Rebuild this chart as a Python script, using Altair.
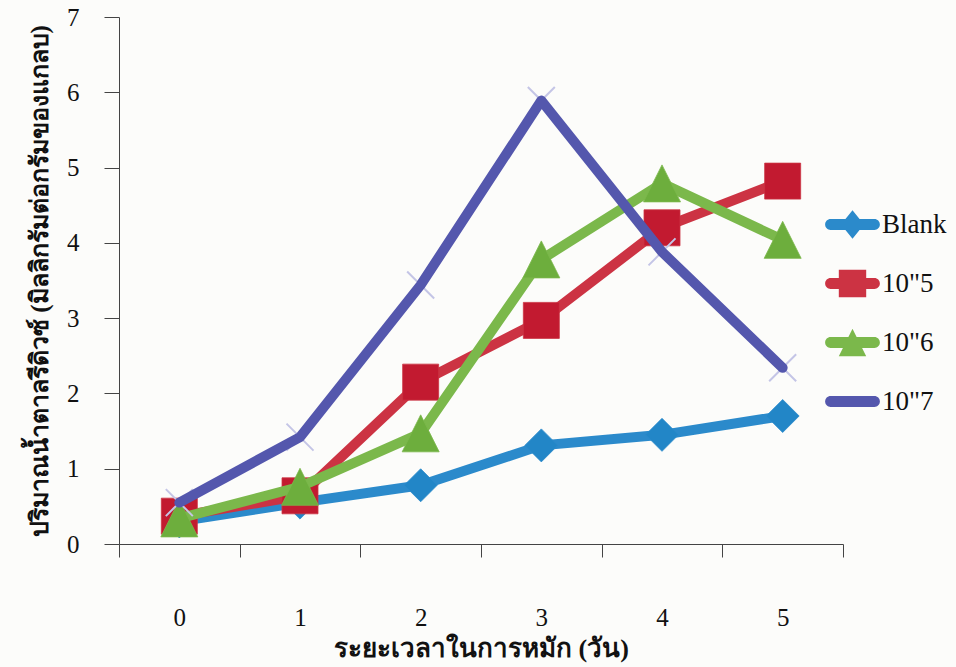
import altair as alt
import pandas as pd

# Fermentation time (days) and reducing-sugar content for each treatment
days = [0, 1, 2, 3, 4, 5]
series_names = ["Blank", '10"5', '10"6', '10"7']
blank_values = [0.30, 0.55, 0.78, 1.31, 1.45, 1.70]
e5_values = [0.37, 0.64, 2.15, 2.97, 4.20, 4.82]
e6_values = [0.34, 0.76, 1.47, 3.78, 4.79, 4.04]
e7_values = [0.55, 1.42, 3.44, 5.89, 3.88, 2.34]
all_values = [blank_values, e5_values, e6_values, e7_values]

x_values = [-0.5, 0, 0.5, 1, 1.5, 2, 2.5, 3, 3.5, 4, 4.5, 5, 5.5]
y_ticks = [0, 1, 2, 3, 4, 5, 6, 7]

line_colors = ["#2B8ACB", "#CC3343", "#7BB84B", "#5457AD"]
marker_fills = ["#2286C7", "#C21A30", "#6DAE3D", "#C4C5E6"]

# marker outlines drawn on the data points
diamond = "M0,-1L1,0L0,1L-1,0Z"
square = "M-1,-1H1V1H-1Z"
triangle = "M0,-1L1,1H-1Z"
cross = "M-1,-1L1,1M-1,1L1,-1"
marker_shapes = [diamond, square, triangle, cross]
marker_sizes = [1089, 1296, 1369, 729]

# legend keys: a rounded bar with the series marker on top of it
bar = "M-0.8,-0.2H0.8A0.2,0.2 0 0 1 0.8,0.2H-0.8A0.2,0.2 0 0 1 -0.8,-0.2Z"
legend_paths = [
    bar + "M0,-0.52L0.42,0L0,0.52L-0.42,0Z",
    bar + "M-0.5,-0.5H0.5V0.5H-0.5Z",
    bar + "M0,-0.5L0.5,0.5H-0.5Z",
    bar,
]

rows = []
for name, vals in zip(series_names, all_values):
    for d, v in zip(days, vals):
        rows.append({"day": d, "series": name, "value": v})
df = pd.DataFrame(rows)

serif = "Liberation Serif"

x_axis = alt.Axis(
    values=x_values,
    labelExpr="datum.value % 1 === 0 ? format(datum.value, 'd') : ''",
    tickOpacity={"condition": {"test": "datum.value % 1 === 0", "value": 0}, "value": 1},
    labelOverlap=False,
    labelFlush=False,
    grid=False,
    tickSize=13,
    tickColor="#444444",
    domainColor="#444444",
    labelFont=serif,
    labelFontSize=25,
    labelColor="#111111",
    labelPadding=48,
    title="ระยะเวลาในการหมัก (วัน)",
    titleFont=serif,
    titleFontSize=26,
    titleFontWeight="bold",
    titleColor="#111111",
    titlePadding=5,
)

y_axis = alt.Axis(
    values=y_ticks,
    grid=False,
    tickSize=15,
    tickColor="#444444",
    domainColor="#444444",
    labelFont=serif,
    labelFontSize=25,
    labelColor="#111111",
    labelPadding=25,
    title="ปริมาณน้ำตาลรีดิวซ์ (มิลลิกรัมต่อกรัมของแกลบ)",
    titleFont=serif,
    titleFontSize=25,
    titleFontWeight="bold",
    titleColor="#111111",
    titlePadding=14,
)

x_enc = alt.X("day:Q", scale=alt.Scale(domain=[-0.5, 5.5], nice=False, zero=False), axis=x_axis)
y_enc = alt.Y("value:Q", scale=alt.Scale(domain=[0, 7], nice=False), axis=y_axis)

layers = []
for i, name in enumerate(series_names):
    base = alt.Chart(df).transform_filter(alt.datum.series == name).encode(x=x_enc, y=y_enc)
    line = base.mark_line(
        color=line_colors[i], strokeWidth=10, strokeCap="round", strokeJoin="round"
    )
    if marker_shapes[i] == cross:
        pts = base.mark_point(
            shape=cross, size=marker_sizes[i], filled=False,
            stroke=marker_fills[i], strokeWidth=2, opacity=1,
        )
        layers += [pts, line]
    else:
        pts = base.mark_point(
            shape=marker_shapes[i], size=marker_sizes[i], filled=True,
            fill=marker_fills[i], opacity=1, stroke=line_colors[i], strokeWidth=0.8,
        )
        layers += [line, pts]

legend = alt.Legend(
    orient="none",
    legendX=706,
    legendY=180,
    title=None,
    symbolSize=3000,
    symbolStrokeWidth=0,
    symbolOpacity=1,
    labelFont=serif,
    labelFontSize=27,
    labelColor="#111111",
    labelOffset=2,
    rowPadding=17,
)

legend_layer = (
    alt.Chart(df)
    .transform_filter("false")
    .mark_point(filled=True, opacity=1)
    .encode(
        x=x_enc,
        y=y_enc,
        color=alt.Color("series:N", scale=alt.Scale(domain=series_names, range=line_colors), legend=legend),
        shape=alt.Shape("series:N", scale=alt.Scale(domain=series_names, range=legend_paths), legend=legend),
    )
)

chart = (
    alt.layer(*layers, legend_layer)
    .properties(
        width=724,
        height=527,
        autosize=alt.AutoSizeParams(type="none"),
        padding={"left": 119, "top": 17, "right": 113, "bottom": 123},
        background="#fcfcfa",
    )
    .configure_view(stroke=None)
)

chart.save("out.html", embed_options={"renderer": "svg", "actions": False})
